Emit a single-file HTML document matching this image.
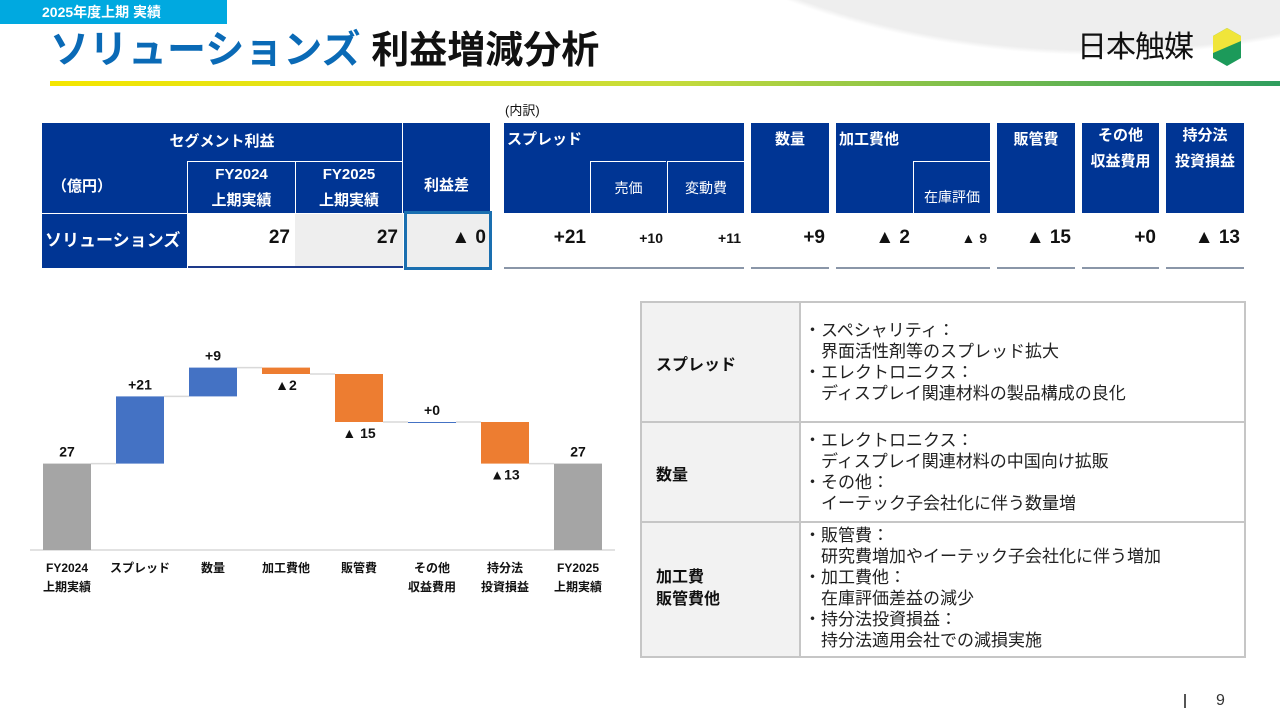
<!DOCTYPE html>
<html><head><meta charset="utf-8">
<style>
*{margin:0;padding:0;box-sizing:border-box}
body{width:1280px;height:720px;overflow:hidden;background:#fff;font-family:"Liberation Sans","Noto Sans CJK JP",sans-serif;position:relative;color:#111}
.a{position:absolute}
.hb{position:absolute;background:#003594;color:#fff;font-weight:bold;font-size:15px;display:flex;align-items:center;justify-content:center;text-align:center;line-height:26px}
.v{position:absolute;font-weight:bold;font-size:19px;text-align:right}
.ul{position:absolute;height:2px;background:#8a96a8;top:267px}
.bl{font-size:17px;line-height:21px;color:#222}
</style></head><body>
<div class="a" style="left:0;top:0;width:1280px;height:720px;background:radial-gradient(ellipse 900px 500px at 1100px -250px,#eeeeee 60%,transparent 61%)"></div>
<div class="a" style="left:0;top:0;width:227px;height:24px;background:#00a9e0;color:#fff;font-weight:bold;font-size:14px;padding-left:42px;line-height:24px">2025年度上期 実績</div>
<div class="a" style="left:50px;top:26px;font-size:39px;font-weight:bold;line-height:50px;white-space:nowrap"><span style="color:#0a6ab6">ソリューションズ</span> <span style="font-size:38px">利益増減分析</span></div>
<div class="a" style="left:50px;top:81px;width:1230px;height:5px;background:linear-gradient(90deg,#f5e600,#c7dc3a 50%,#2f9e5e)"></div>
<div class="a" style="left:1077px;top:29px;font-size:30px;line-height:38px;white-space:nowrap;letter-spacing:-1px">日本触媒</div>
<svg class="a" style="left:1212px;top:27px" width="30" height="40" viewBox="0 0 30 40"><polygon points="15,1 29,9 29,31 15,39 1,31 1,9" fill="#1c9a5a"/><polygon points="15,1 29,9 29,14 1,26 1,9" fill="#f0e53a"/></svg>

<div class="hb" style="left:42px;top:123px;width:360px;height:38px">セグメント利益</div>
<div class="hb" style="left:42px;top:161px;width:145px;height:52px;justify-content:flex-start;padding-left:10px">（億円）</div>
<div class="hb" style="left:188px;top:162px;width:107px;height:51px">FY2024<br>上期実績</div>
<div class="hb" style="left:296px;top:162px;width:106px;height:51px">FY2025<br>上期実績</div>
<div class="hb" style="left:403px;top:123px;width:87px;height:90px;padding-top:36px">利益差</div>
<div class="hb" style="left:42px;top:214px;width:145px;height:54px;font-size:17px;justify-content:flex-start;padding-left:3px">ソリューションズ</div>
<div class="a" style="left:188px;top:214px;width:107px;height:54px;background:#fff;border-bottom:2px solid #1e3a8a"></div>
<div class="a" style="left:295px;top:214px;width:108px;height:54px;background:#eeeeee;border-bottom:2px solid #1e3a8a"></div>
<div class="v" style="left:188px;top:227px;width:102px">27</div>
<div class="v" style="left:296px;top:227px;width:102px">27</div>
<div class="a" style="left:404px;top:211px;width:88px;height:59px;background:#eeeeee;border:3px solid #1a6fb0"></div>
<div class="v" style="left:404px;top:227px;width:82px">▲ 0</div>

<div class="a" style="left:505px;top:100px;font-size:13px">(内訳)</div>
<div class="hb" style="left:504px;top:123px;width:240px;height:90px;justify-content:flex-start;align-items:flex-start;padding:4px 0 0 3px">スプレッド</div>
<div class="hb" style="left:590px;top:161px;width:76px;height:52px;border-left:1px solid #fff;border-top:1px solid #fff;font-weight:normal;font-size:14px">売価</div>
<div class="hb" style="left:667px;top:161px;width:77px;height:52px;border-left:1px solid #fff;border-top:1px solid #fff;font-weight:normal;font-size:14px">変動費</div>
<div class="hb" style="left:751px;top:123px;width:78px;height:90px;align-items:flex-start;padding-top:4px">数量</div>
<div class="hb" style="left:836px;top:123px;width:154px;height:90px;justify-content:flex-start;align-items:flex-start;padding:4px 0 0 3px">加工費他</div>
<div class="hb" style="left:913px;top:161px;width:77px;height:52px;border-left:1px solid #fff;border-top:1px solid #fff;font-weight:normal;font-size:14px;padding-top:18px">在庫評価</div>
<div class="hb" style="left:997px;top:123px;width:78px;height:90px;align-items:flex-start;padding-top:4px">販管費</div>
<div class="hb" style="left:1082px;top:123px;width:77px;height:90px;align-items:flex-start;padding-top:0">その他<br>収益費用</div>
<div class="hb" style="left:1166px;top:123px;width:78px;height:90px;align-items:flex-start;padding-top:0">持分法<br>投資損益</div>
<div class="v" style="left:504px;top:227px;width:82px">+21</div>
<div class="v" style="left:590px;top:230px;width:73px;font-size:14px">+10</div>
<div class="v" style="left:667px;top:230px;width:74px;font-size:14px">+11</div>
<div class="v" style="left:751px;top:227px;width:74px">+9</div>
<div class="v" style="left:836px;top:227px;width:74px">▲ 2</div>
<div class="v" style="left:913px;top:230px;width:74px;font-size:14px">▲ 9</div>
<div class="v" style="left:997px;top:227px;width:74px">▲ 15</div>
<div class="v" style="left:1082px;top:227px;width:74px">+0</div>
<div class="v" style="left:1166px;top:227px;width:74px">▲ 13</div>
<div class="ul" style="left:504px;width:240px"></div>
<div class="ul" style="left:751px;width:78px"></div>
<div class="ul" style="left:836px;width:154px"></div>
<div class="ul" style="left:997px;width:78px"></div>
<div class="ul" style="left:1082px;width:77px"></div>
<div class="ul" style="left:1166px;width:78px"></div>

<svg id="wf" class="a" style="left:0;top:330px" width="630" height="280"></svg>

<div class="a" style="left:640px;top:301px;width:606px;height:357px;border:2px solid #c6c6c6">
 <div class="a" style="left:0;top:0;width:159px;height:353px;background:#f2f2f2;border-right:2px solid #c6c6c6"></div>
 <div class="a" style="left:0;top:118px;width:602px;height:2px;background:#c6c6c6"></div>
 <div class="a" style="left:0;top:218px;width:602px;height:2px;background:#c6c6c6"></div>
 <div class="a" style="left:14px;top:48px;font-weight:bold;font-size:16px">スプレッド</div>
 <div class="a" style="left:14px;top:158px;font-weight:bold;font-size:16px">数量</div>
 <div class="a" style="left:14px;top:264px;font-weight:bold;font-size:16px;line-height:22px">加工費<br>販管費他</div>
 <div class="a bl" style="left:162px;top:17px">・スペシャリティ：<br>　界面活性剤等のスプレッド拡大<br>・エレクトロニクス：<br>　ディスプレイ関連材料の製品構成の良化</div>
 <div class="a bl" style="left:162px;top:127px">・エレクトロニクス：<br>　ディスプレイ関連材料の中国向け拡販<br>・その他：<br>　イーテック子会社化に伴う数量増</div>
 <div class="a bl" style="left:162px;top:222px">・販管費：<br>　研究費増加やイーテック子会社化に伴う増加<br>・加工費他：<br>　在庫評価差益の減少<br>・持分法投資損益：<br>　持分法適用会社での減損実施</div>
</div>

<div class="a" style="left:1184px;top:694px;width:2px;height:14px;background:#555"></div>
<div class="a" style="left:1216px;top:692px;font-size:16px;color:#333">9</div>

<script>
const categories=["FY2024|上期実績","スプレッド","数量","加工費他","販管費","その他|収益費用","持分法|投資損益","FY2025|上期実績"];
const deltas=[27,21,9,-2,-15,0,-13,27];
const kinds=["total","delta","delta","delta","delta","delta","delta","total"];
const valueLabels=["27","+21","+9","▲2","▲ 15","+0","▲13","27"];
const svg=document.getElementById('wf');
const NS='http://www.w3.org/2000/svg';
const base=220, unit=3.2, x0=67, pitch=73, bw=48;
const y=v=>base-v*unit;
const xc=i=>x0+i*pitch;
function mk(t,a){const e=document.createElementNS(NS,t);for(const k in a)e.setAttribute(k,a[k]);svg.appendChild(e);return e;}
const ax=mk('line',{x1:30,x2:615,y1:base,y2:base,stroke:'#d9d9d9','stroke-width':1.5});


let run=0;
for(let i=0;i<deltas.length;i++){
  let lo,hi,col;
  if(kinds[i]==='total'){lo=0;hi=deltas[i];col='#a5a5a5';run=deltas[i];}
  else{const s=run,e=run+deltas[i];lo=Math.min(s,e);hi=Math.max(s,e);col=deltas[i]>=0?'#4472c4':'#ed7d31';run=e;}
  const h=Math.max((hi-lo)*unit,1);
  const r=mk('rect',{x:xc(i)-bw/2,y:y(hi),width:bw,height:h,fill:col});
  
  
  if(i<deltas.length-1){
    const c=mk('line',{x1:xc(i)+bw/2,x2:xc(i+1)-bw/2,y1:y(run),y2:y(run),stroke:'#d9d9d9','stroke-width':1.5});
    
    
  }
  const below=kinds[i]==='delta'&&deltas[i]<0;
  const ly=below?y(lo)+16:y(hi)-7;
  const t=mk('text',{x:xc(i),y:ly,'text-anchor':'middle','font-size':14,'font-weight':'bold',fill:'#111'});
  t.textContent=valueLabels[i];
  
  
  categories[i].split('|').forEach((p,j)=>{
    const c=mk('text',{x:xc(i),y:base+22+j*19,'text-anchor':'middle','font-size':12,'font-weight':'bold',fill:'#111'});
    c.textContent=p;
    
    
  });
}
</script>
</body></html>
